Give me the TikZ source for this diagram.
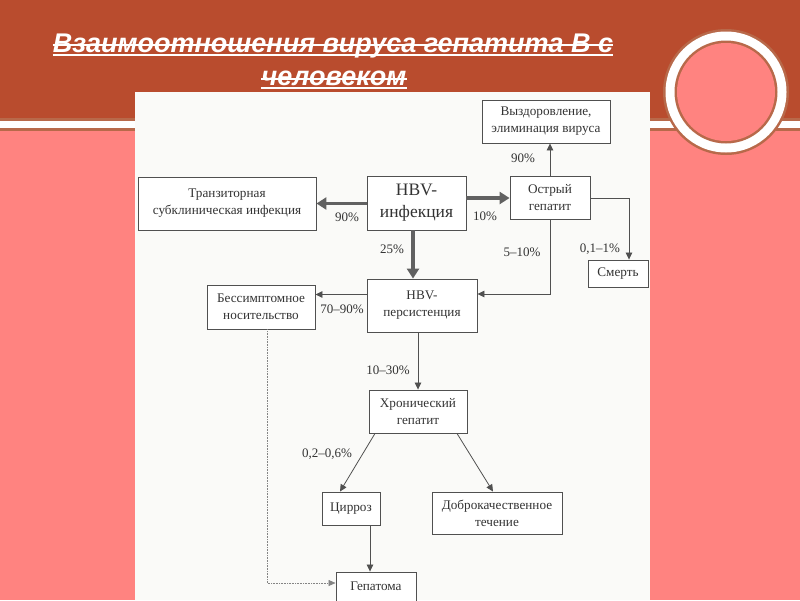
\documentclass[tikz,border=0pt]{standalone}
\usepackage{fontspec}
\setmainfont{Liberation Serif}
\newfontfamily\titlefont{Liberation Sans}
\usetikzlibrary{arrows.meta,calc}
\definecolor{bandc}{HTML}{B94C2E}
\definecolor{pinkc}{HTML}{FF8380}
\definecolor{rimc}{HTML}{B8694A}
\definecolor{panelc}{HTML}{FAFAF8}
\definecolor{linec}{HTML}{505050}
\definecolor{textc}{HTML}{333333}
\begin{document}
\begin{tikzpicture}[x=1pt,y=-1pt,
  box/.style={draw=linec, line width=0.9pt, fill=white, align=center, text=textc,
    font=\fontsize{13.2}{17}\selectfont, inner sep=1pt},
  pct/.style={text=textc, font=\fontsize{13}{15}\selectfont, inner sep=0pt},
  thin/.style={draw=linec, line width=0.8pt, -{Triangle[length=7pt,width=6.5pt]}},
  thick/.style={draw=linec!90, line width=3.6pt, -{Triangle[length=10pt,width=12pt]}},
  dots/.style={draw=linec!70, line width=0.6pt, densely dotted, -{Triangle[length=7pt,width=6pt]}},
  ttl/.style={text=white, font=\titlefont\bfseries\itshape\fontsize{27}{32}\selectfont, inner sep=0pt, anchor=base}
]
\useasboundingbox (0,0) rectangle (800,600);
% background
\fill[pinkc] (0,0) rectangle (800,600);
\fill[bandc] (0,0) rectangle (800,120);
\fill[rimc] (0,118) rectangle (800,131);
\fill[white] (0,121) rectangle (800,128);
% circle ornament
\fill[rimc] (726,92) circle (63);
\fill[white] (726,92) circle (60.5);
\fill[rimc] (726,92) circle (51.5);
\fill[pinkc] (726,92) circle (49);
% panel
\fill[panelc] (135,92) rectangle (650,600);
% title
\node[ttl] (t1) at (333,52) {Взаимоотношения вируса гепатита В с};
\node[ttl] (t2) at (334,85) {человеком};
\draw[white, line width=1.8pt] ($(t1.base west)+(0,3)$) -- ($(t1.base east)+(0,3)$);
\draw[white, line width=1.6pt] ($(t1.base west)+(0,-7)$) -- ($(t1.base east)+(0,-7)$);
\draw[white, line width=1.8pt] ($(t2.base west)+(0,3)$) -- ($(t2.base east)+(0,3)$);
\draw[white, line width=1.6pt] ($(t2.base west)+(0,-6)$) -- ($(t2.base east)+(0,-6)$);
% nodes
\node[box, minimum width=128, minimum height=43] (vyzd) at (546,121.5) {Выздоровление,\\элиминация вируса};
\node[box, minimum width=80, minimum height=43] (ostr) at (550,198) {Острый\\гепатит};
\node[box, minimum width=99, minimum height=54, font=\fontsize{17.5}{22}\selectfont] (infe) at (416.5,203) {HBV-\\инфекция};
\node[box, minimum width=60, minimum height=27] (smert) at (618,273.5) {Смерть};
\node[box, minimum width=178, minimum height=53] (tranz) at (227,203.5) {Транзиторная\\субклиническая инфекция};
\node[box, minimum width=110, minimum height=53] (pers) at (422,305.5) {HBV-\\персистенция};
\node[box, minimum width=108, minimum height=44] (bess) at (261,307) {Бессимптомное\\носительство};
\node[box, minimum width=98, minimum height=43] (hron) at (418,411.5) {Хронический\\гепатит};
\node[box, minimum width=58, minimum height=33] (cirr) at (351,508.5) {Цирроз};
\node[box, minimum width=130, minimum height=42] (dobr) at (497,513) {Доброкачественное\\течение};
\node[box, minimum width=80, minimum height=46] (gepa) at (376,595) {Гепатома\\ };
% connectors
\draw[thick] (infe.west |- tranz.east) -- (tranz.east);
\draw[thick] (infe.east |- ostr.west) -- (ostr.west);
\draw[thick] ([xshift=-3.5pt]infe.south) -- ([xshift=-3.5pt]infe.south |- pers.north);
\draw[thin] (ostr.north) -- (ostr.north |- vyzd.south);
\draw[thin] (ostr.east) -| ([xshift=11pt]smert.north);
\draw[thin] (ostr.south) |- ([yshift=11.5pt]pers.east);
\draw[thin] ([yshift=11pt]pers.west) -- ([yshift=11pt]pers.west -| bess.east);
\draw[thin] (hron.north |- pers.south) -- (hron.north);
\draw[thin] ([xshift=-43pt]hron.south) -- ([xshift=-11pt]cirr.north);
\draw[thin] ([xshift=39pt]hron.south) -- ([xshift=-4pt]dobr.north);
\draw[thin] ([xshift=19pt]cirr.south) -- ([xshift=19pt]cirr.south |- gepa.north);
\draw[dots] ([xshift=6pt]bess.south) |- ([yshift=12pt]gepa.west);
% labels
\node[pct] (l1) at (347,217) {90\%};
\node[pct] (l2) at (485,216) {10\%};
\node[pct] (l3) at (392,249) {25\%};
\node[pct] (l4) at (523,158) {90\%};
\node[pct] (l5) at (522,252) {5--10\%};
\node[pct] (l6) at (600,249) {0,1--1\%};
\node[pct] (l7) at (342,309) {70--90\%};
\node[pct] (l8) at (388,370) {10--30\%};
\node[pct] (l9) at (327,454) {0,2--0,6\%};
\end{tikzpicture}
\end{document}
